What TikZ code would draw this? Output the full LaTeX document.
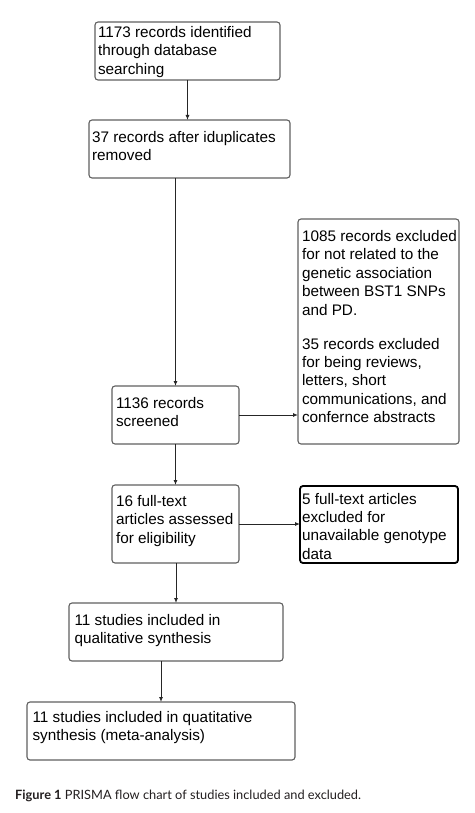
\documentclass[tikz,border=0pt]{standalone}
\usepackage{fontspec}
\setmainfont{Liberation Sans}
\newfontfamily\capfont{Lato}
\usetikzlibrary{arrows.meta}
\definecolor{boxgray}{HTML}{606060}
\definecolor{capcol}{HTML}{231F20}
\tikzset{
  box/.style={draw=boxgray, line width=1.1pt, rounded corners=3pt, inner sep=0pt, outer sep=0pt, anchor=north west},
  boldbox/.style={box, draw=black, line width=1.8pt},
  txt/.style={inner sep=0pt, outer sep=0pt, anchor=north west, align=left, font=\fontsize{15.3}{18.4}\selectfont},
  flow/.style={draw=black!85, line width=0.9pt, -{Latex[length=5pt,width=4pt]}},
  captxt/.style={inner sep=0pt, anchor=base west, text=capcol, font=\capfont\fontsize{12.8}{15}\selectfont}
}
\begin{document}
\begin{tikzpicture}[x=1pt,y=-1pt]
\useasboundingbox[fill=white] (0,0) rectangle (474,813);
% boxes
\node[box, minimum width=185pt, minimum height=58pt] (b1) at (95,22) {};
\node[box, minimum width=201pt, minimum height=58pt] (b2) at (89,120) {};
\node[box, minimum width=161pt, minimum height=225pt] (r) at (298,219) {};
\node[box, minimum width=127pt, minimum height=58pt] (b3) at (112,386) {};
\node[box, minimum width=127pt, minimum height=78pt] (b4) at (112,485) {};
\node[boldbox, minimum width=158pt, minimum height=77pt] (b5) at (300,486) {};
\node[box, minimum width=214pt, minimum height=58pt] (b6) at (69,603) {};
\node[box, minimum width=268pt, minimum height=58pt] (b7) at (27,702) {};
% texts
\node[txt] (t1) at ([shift={(3pt,-4.5pt)}]b1.north west) {1173 records identified\\through database\\searching};
\node[txt] (t2) at ([shift={(3pt,-11.5pt)}]b2.north west) {37 records after iduplicates\\removed};
\node[txt] (tr) at ([shift={(4pt,-11.5pt)}]r.north west) {1085 records excluded\\for not related to the\\genetic association\\between BST1 SNPs\\and PD.\\[15.6pt]35 records excluded\\for being reviews,\\letters, short\\communications, and\\confernce abstracts};
\node[txt] (t3) at ([shift={(4pt,-11.5pt)}]b3.north west) {1136 records\\screened};
\node[txt] (t4) at ([shift={(4pt,-10.5pt)}]b4.north west) {16 full-text\\articles assessed\\for eligibility};
\node[txt] (t5) at ([shift={(2pt,-7pt)}]b5.north west) {5 full-text articles\\excluded for\\unavailable genotype\\data};
\node[txt] (t6) at ([shift={(5.5pt,-11.5pt)}]b6.north west) {11 studies included in\\qualitative synthesis};
\node[txt] (t7) at ([shift={(5.5pt,-9.5pt)}]b7.north west) {11 studies included in quatitative\\synthesis (meta-analysis)};
% connectors
\draw[flow] (b1.south) -- (b1.south |- b2.north);
\draw[flow] (b3.north |- b2.south) -- (b3.north);
\draw[flow] (b3.east) -- (b3.east -| r.west);
\draw[flow] (b3.south) -- (b4.north);
\draw[flow] (b4.east) -- (b4.east -| b5.west);
\draw[flow] (b6.north |- b4.south) -- (b6.north);
\draw[flow] (b7.north |- b6.south) -- (b7.north);
% caption
\node[captxt] (cap) at (15,799) {\textbf{Figure 1} PRISMA flow chart of studies included and excluded.};
\end{tikzpicture}
\end{document}
